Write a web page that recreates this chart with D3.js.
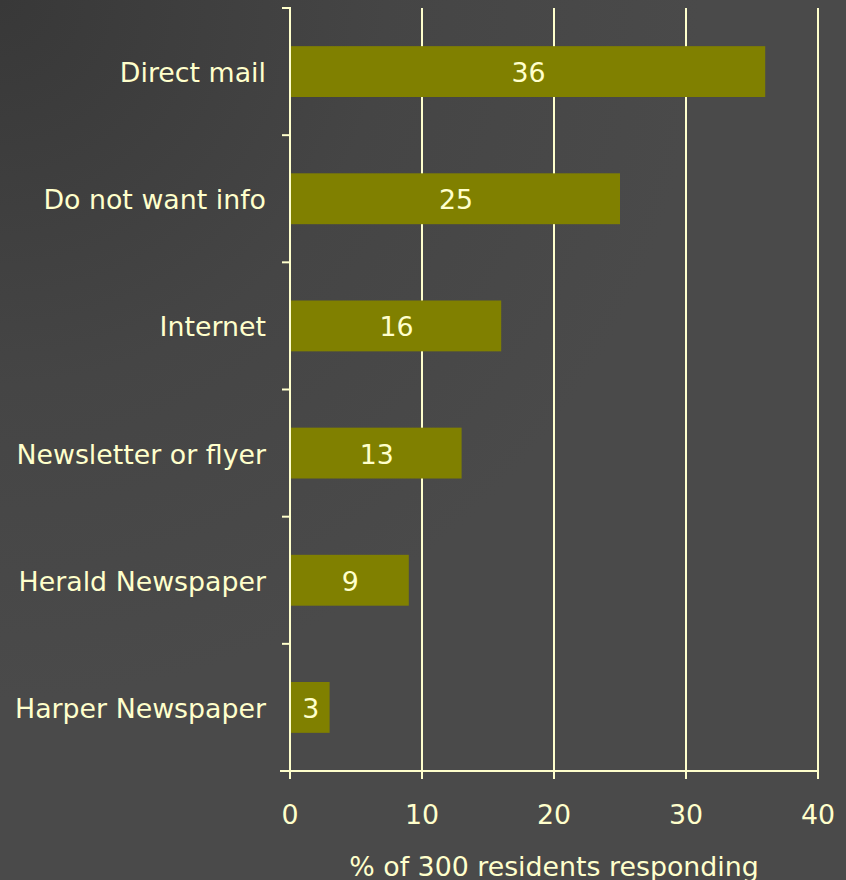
<!DOCTYPE html>
<html>
<head>
<meta charset="utf-8">
<script src="https://cdn.jsdelivr.net/npm/d3@7"></script>
<style>
  html, body { margin: 0; padding: 0; background: #484848; }
  svg { display: block; }
  text { font-family: "DejaVu Sans", Verdana, sans-serif; fill: #ffffcc; }
</style>
</head>
<body>
<div id="chart"></div>
<script>
// Survey: preferred way to receive information
const categories = ["Direct mail", "Do not want info", "Internet", "Newsletter or flyer", "Herald Newspaper", "Harper Newspaper"];
const percentValues = [36, 25, 16, 13, 9, 3];
const xTicks = [0, 10, 20, 30, 40];
const xTitle = "% of 300 residents responding";

const W = 846, H = 880;
const plotLeft = 290, plotRight = 818, plotTop = 8, plotBottom = 771;
const ink = "#ffffcc";
const barColor = "#808000";
const fontSize = 26.8;

const svg = d3.select("#chart").append("svg")
  .attr("width", W).attr("height", H);

// Background: darker toward the upper left
const defs = svg.append("defs");
const grad = defs.append("radialGradient")
  .attr("id", "bg").attr("gradientUnits", "userSpaceOnUse")
  .attr("cx", 0).attr("cy", 0).attr("r", 700);
grad.append("stop").attr("offset", "0%").attr("stop-color", "#383838");
grad.append("stop").attr("offset", "55%").attr("stop-color", "#454545");
grad.append("stop").attr("offset", "100%").attr("stop-color", "#4a4a4a");
svg.append("rect").attr("width", W).attr("height", H).attr("fill", "url(#bg)");

const x = d3.scaleLinear().domain([0, 40]).range([plotLeft, plotRight]);
const y = d3.scaleBand().domain(categories).range([plotTop, plotBottom])
  .paddingInner(0.6).paddingOuter(0.3);

// Vertical gridlines
svg.append("g").selectAll("line")
  .data(xTicks.filter(d => d > 0))
  .join("line")
  .attr("x1", d => x(d)).attr("x2", d => x(d))
  .attr("y1", plotTop).attr("y2", plotBottom)
  .attr("stroke", ink).attr("stroke-width", 2);

// Bars
svg.append("g").selectAll("rect")
  .data(categories)
  .join("rect")
  .attr("x", x(0))
  .attr("y", d => y(d))
  .attr("width", (d, i) => x(percentValues[i]) - x(0))
  .attr("height", y.bandwidth())
  .attr("fill", barColor);

// Value labels inside bars
svg.append("g").selectAll("text")
  .data(categories)
  .join("text")
  .attr("x", (d, i) => (x(0) + x(percentValues[i])) / 2 + 1)
  .attr("y", d => y(d) + y.bandwidth() / 2 + 1)
  .attr("text-anchor", "middle")
  .attr("dominant-baseline", "central")
  .style("font-size", fontSize + "px")
  .text((d, i) => percentValues[i]);

// Y axis: line, tick marks between categories, category labels
const yAxis = svg.append("g");
yAxis.append("line")
  .attr("x1", plotLeft).attr("x2", plotLeft)
  .attr("y1", plotTop - 1).attr("y2", plotBottom)
  .attr("stroke", ink).attr("stroke-width", 2);
const step = y.step();
const yTickPos = d3.range(categories.length + 1).map(i => plotTop + i * step);
yAxis.selectAll("line.tick")
  .data(yTickPos)
  .join("line").attr("class", "tick")
  .attr("x1", plotLeft - 8).attr("x2", plotLeft)
  .attr("y1", d => d).attr("y2", d => d)
  .attr("stroke", ink).attr("stroke-width", 2);
yAxis.selectAll("text")
  .data(categories)
  .join("text")
  .attr("x", plotLeft - 24)
  .attr("y", d => y(d) + y.bandwidth() / 2 + 1)
  .attr("text-anchor", "end")
  .attr("dominant-baseline", "central")
  .style("font-size", fontSize + "px")
  .text(d => d);

// X axis
const xAxis = svg.append("g");
xAxis.append("line")
  .attr("x1", plotLeft - 10).attr("x2", plotRight)
  .attr("y1", plotBottom).attr("y2", plotBottom)
  .attr("stroke", ink).attr("stroke-width", 2);
xAxis.selectAll("line.tick")
  .data(xTicks)
  .join("line").attr("class", "tick")
  .attr("x1", d => x(d)).attr("x2", d => x(d))
  .attr("y1", plotBottom).attr("y2", plotBottom + 8)
  .attr("stroke", ink).attr("stroke-width", 2);
xAxis.selectAll("text")
  .data(xTicks)
  .join("text")
  .attr("x", d => x(d))
  .attr("y", 814)
  .attr("text-anchor", "middle")
  .attr("dominant-baseline", "central")
  .style("font-size", fontSize + "px")
  .text(d => d);

svg.append("text")
  .attr("x", (plotLeft + plotRight) / 2)
  .attr("y", 866)
  .attr("text-anchor", "middle")
  .attr("dominant-baseline", "central")
  .style("font-size", fontSize + "px")
  .text(xTitle);
</script>
</body>
</html>
